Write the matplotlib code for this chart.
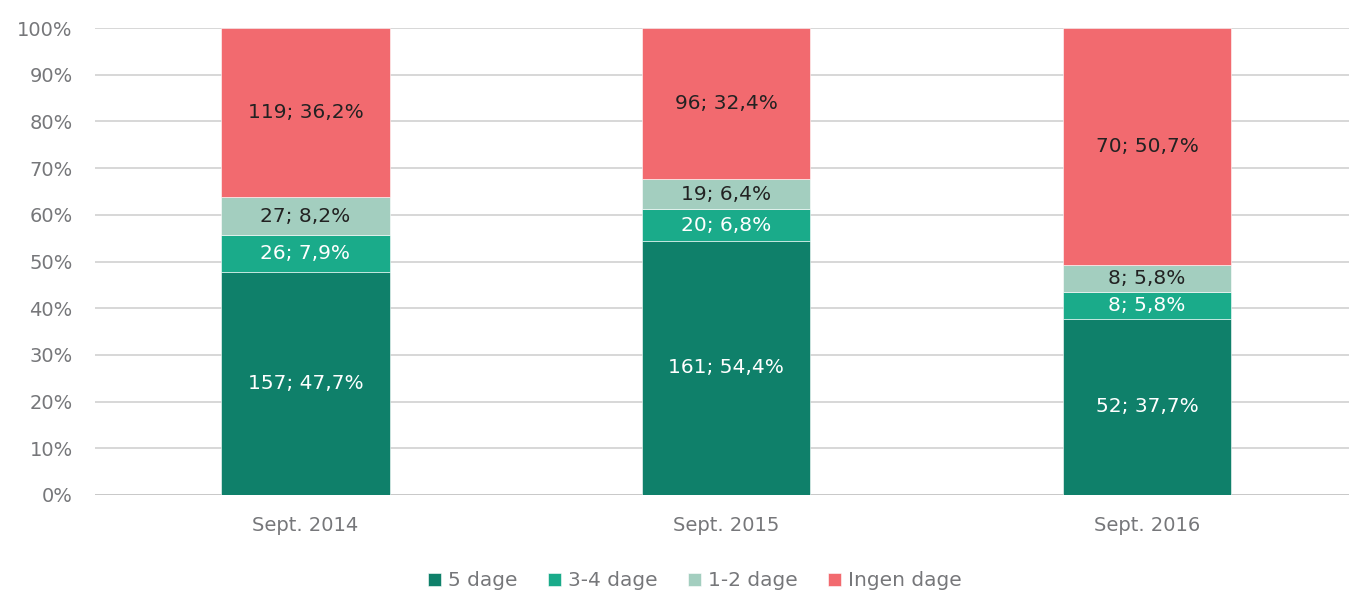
import numpy as np
import matplotlib.pyplot as plt

# data
years = ["Sept. 2014", "Sept. 2015", "Sept. 2016"]
series = ["5 dage", "3-4 dage", "1-2 dage", "Ingen dage"]
counts = {
    "5 dage": [157, 161, 52],
    "3-4 dage": [26, 20, 8],
    "1-2 dage": [27, 19, 8],
    "Ingen dage": [119, 96, 70],
}
pcts = {
    "5 dage": [47.7, 54.4, 37.7],
    "3-4 dage": [7.9, 6.8, 5.8],
    "1-2 dage": [8.2, 6.4, 5.8],
    "Ingen dage": [36.2, 32.4, 50.7],
}
colors = ["#0F806A", "#1AAB8A", "#A3CEBF", "#F26A6F"]
text_colors = ["white", "white", "#222222", "#222222"]

plt.rcParams['font.family'] = ['DejaVu Sans']

fig = plt.figure(figsize=(13.49, 5.92), dpi=100)
ax = fig.add_axes([95 / 1349, 97 / 592, 1254 / 1349, 467 / 592])

x = np.arange(len(years))
bottom = np.zeros(len(years))
for s, c, tc in zip(series, colors, text_colors):
    vals = np.array(pcts[s])
    ax.bar(x, vals, 0.4, bottom=bottom, color=c, edgecolor="white", linewidth=0.4,
           label=s, zorder=3)
    for xi, v, b, n in zip(x, vals, bottom, counts[s]):
        lbl = f"{n}; {v:.1f}%".replace(".", ",")
        ax.text(xi, b + v / 2, lbl, ha="center", va="center", color=tc,
                fontsize=14.5, zorder=4)
    bottom += vals

ax.set_xlim(-0.5, 2.48)
ax.set_ylim(0, 100)
ax.set_yticks(np.arange(0, 101, 10))
ax.set_yticklabels([f"{t}%" for t in range(0, 101, 10)])
ax.set_xticks(x)
ax.set_xticklabels(years)
ax.tick_params(axis="both", length=0, labelsize=14, labelcolor="#76777A")
ax.tick_params(axis="y", pad=16)
ax.tick_params(axis="x", pad=15)
ax.yaxis.grid(True, color="#D4D4D4", linewidth=1.3, zorder=0)
ax.set_axisbelow(True)
for sp in ax.spines.values():
    sp.set_visible(False)
ax.axhline(0, color="#C8C8C8", linewidth=2, zorder=2)

leg = ax.legend(loc="upper center", bbox_to_anchor=(600 / 1254, -0.125), ncol=4,
                frameon=False, fontsize=14.5, handlelength=0.65, handleheight=0.65,
                handletextpad=0.35, columnspacing=1.5)
for t in leg.get_texts():
    t.set_color("#76777A")

fig.savefig("out.png", dpi=100)
